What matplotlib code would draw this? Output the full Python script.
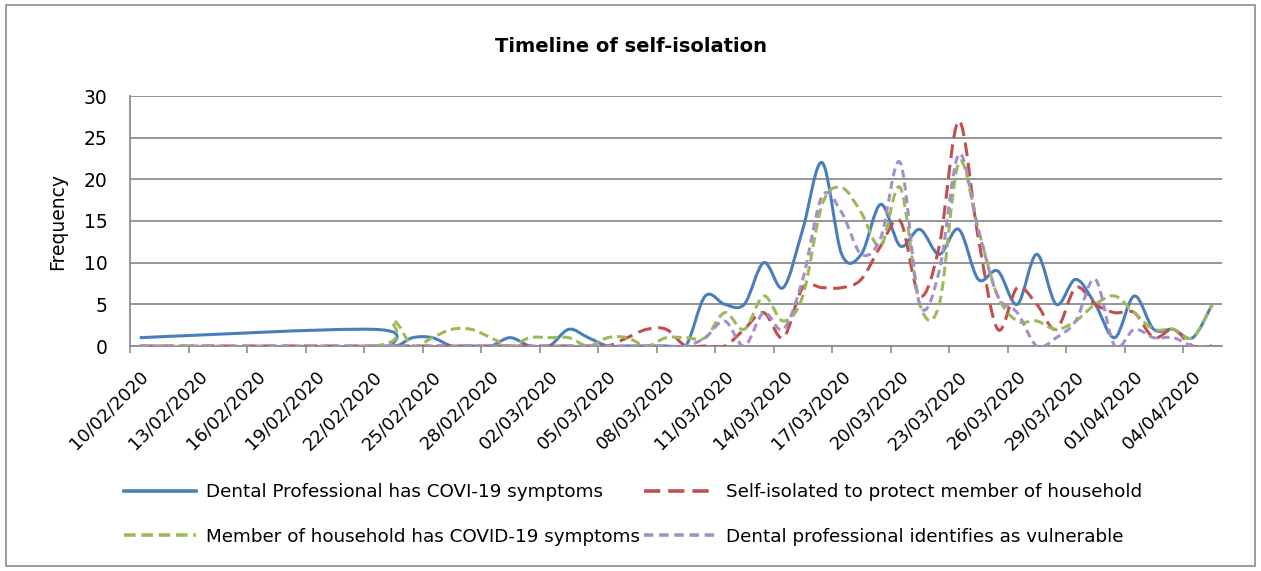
import matplotlib
matplotlib.use("Agg")
import matplotlib.pyplot as plt
import matplotlib.dates as mdates
from matplotlib.path import Path
from matplotlib.patches import PathPatch, Rectangle
from matplotlib.lines import Line2D
import numpy as np
import pandas as pd

# data
dates = ["10/02/2020",
         "22/02/2020", "23/02/2020", "24/02/2020", "25/02/2020", "26/02/2020", "27/02/2020",
         "28/02/2020", "29/02/2020", "01/03/2020", "02/03/2020", "03/03/2020", "04/03/2020",
         "05/03/2020", "06/03/2020", "07/03/2020", "08/03/2020", "09/03/2020", "10/03/2020",
         "11/03/2020", "12/03/2020", "13/03/2020", "14/03/2020", "15/03/2020", "16/03/2020",
         "17/03/2020", "18/03/2020", "19/03/2020", "20/03/2020", "21/03/2020", "22/03/2020",
         "23/03/2020", "24/03/2020", "25/03/2020", "26/03/2020", "27/03/2020", "28/03/2020",
         "29/03/2020", "30/03/2020", "31/03/2020", "01/04/2020", "02/04/2020", "03/04/2020",
         "04/04/2020", "05/04/2020"]

has_symptoms = [1, 2, 0, 1, 1, 0, 0, 0, 1, 0, 0, 2, 1, 0, 0, 0, 0, 0, 6, 5, 5, 10, 7, 14, 22,
                11, 11, 17, 12, 14, 11, 14, 8, 9, 5, 11, 5, 8, 5, 1, 6, 2, 2, 1, 5]
protect_household = [0, 0, 0, 0, 0, 0, 0, 0, 0, 0, 0, 0, 0, 0, 1, 2, 2, 0, 0, 0, 2, 4, 1, 7, 7,
                     7, 8, 12, 15, 6, 12, 27, 13, 2, 7, 5, 2, 7, 5, 4, 4, 1, 2, 0, 0]
household_symptoms = [0, 0, 3, 0, 1, 2, 2, 1, 0, 1, 1, 1, 0, 1, 1, 0, 1, 1, 1, 4, 2, 6, 3, 6, 17,
                      19, 16, 12, 19, 5, 5, 22, 14, 6, 3, 3, 2, 3, 5, 6, 4, 2, 2, 1, 5]
vulnerable = [0, 0, 0, 0, 0, 0, 0, 0, 0, 0, 0, 0, 0, 0, 0, 0, 0, 0, 1, 3, 0, 4, 2, 8, 18,
              16, 11, 13, 22, 5, 9, 23, 14, 6, 4, 0, 1, 3, 8, 0, 2, 1, 1, 0, 0]

labels = ["Dental Professional has COVI-19 symptoms",
          "Self-isolated to protect member of household",
          "Member of household has COVID-19 symptoms",
          "Dental professional identifies as vulnerable"]
colors = ["#4A7EBB", "#C0504D", "#9BBB59", "#A48FC8"]
styles = ["-", (0, (4.5, 2.2)), (0, (3.2, 1.6)), (0, (2.6, 1.6))]

x = mdates.date2num(pd.to_datetime(dates, format="%d/%m/%Y"))


def smooth_path(xs, ys):
    # Excel style smoothed line: bezier segments through every point
    pts = np.column_stack([xs, ys]).astype(float)
    verts = [pts[0]]
    codes = [Path.MOVETO]
    n = len(pts)
    for i in range(n - 1):
        p0 = pts[max(i - 1, 0)]
        p1 = pts[i]
        p2 = pts[i + 1]
        p3 = pts[min(i + 2, n - 1)]
        verts += [p1 + (p2 - p0) / 6, p2 - (p3 - p1) / 6, p2]
        codes += [Path.CURVE4] * 3
    return Path(verts, codes)


fig = plt.figure(figsize=(12.61, 5.71), dpi=100)
ax = fig.add_axes([130 / 1261, 1 - 346 / 571, 1092 / 1261, 250 / 571])

series = [has_symptoms, protect_household, household_symptoms, vulnerable]
for i, vals in enumerate(series):
    ax.add_patch(PathPatch(smooth_path(x, vals), fill=False, edgecolor=colors[i],
                           linewidth=2.2, linestyle=styles[i], zorder=3 + i,
                           capstyle="butt", joinstyle="round"))

ax.set_xlim(x[0] - 0.5, x[-1] + 0.5)
ax.set_ylim(0, 30)
ax.set_yticks(range(0, 31, 5))
ax.yaxis.grid(True, color="#8C8C8C", linewidth=1.3)
ax.set_axisbelow(True)

# tick marks sit between days, the date labels a little right of each tick
label_days = x[0] + np.arange(0, 55, 3)
ax.set_xticks(label_days - 0.5)
ax.set_xticklabels([])
ax.set_xticks(label_days + 0.3, minor=True)
ax.set_xticklabels([mdates.num2date(d).strftime("%d/%m/%Y") for d in label_days],
                   minor=True, rotation=45, ha="right", rotation_mode="anchor",
                   va="center", fontsize=13)
ax.tick_params(axis="x", which="major", direction="out", length=5, color="#8C8C8C", width=1.2)
ax.tick_params(axis="x", which="minor", length=0, pad=20)
ax.tick_params(axis="y", length=0, labelsize=13.5, pad=16)

for side in ["top", "right"]:
    ax.spines[side].set_visible(False)
for side in ["left", "bottom"]:
    ax.spines[side].set_color("#8C8C8C")
    ax.spines[side].set_linewidth(1.3)

ax.set_ylabel("Frequency", fontsize=13.5, labelpad=12)
fig.text(631 / 1261, 1 - 47 / 571, "Timeline of self-isolation", ha="center", va="center",
         fontsize=14, fontweight="bold")

# legend fills column by column, so order the entries to read row by row
order = [0, 2, 1, 3]
handles = [Line2D([], [], color=colors[i], linewidth=2.6, linestyle=styles[i]) for i in order]
fig.legend(handles, [labels[i] for i in order], loc="upper left",
           bbox_to_anchor=(124 / 1261, 1 - 483 / 571),
           ncol=2, frameon=False, fontsize=13.2, handlelength=3.9, handletextpad=0.55,
           columnspacing=0.25, labelspacing=1.45, borderpad=0, borderaxespad=0)

fig.patches.append(Rectangle((6 / 1261, 5 / 571), 1249 / 1261, 561 / 571, fill=False,
                             edgecolor="#8C8C8C", linewidth=1.2, transform=fig.transFigure))

plt.savefig("out.png", dpi=100)
